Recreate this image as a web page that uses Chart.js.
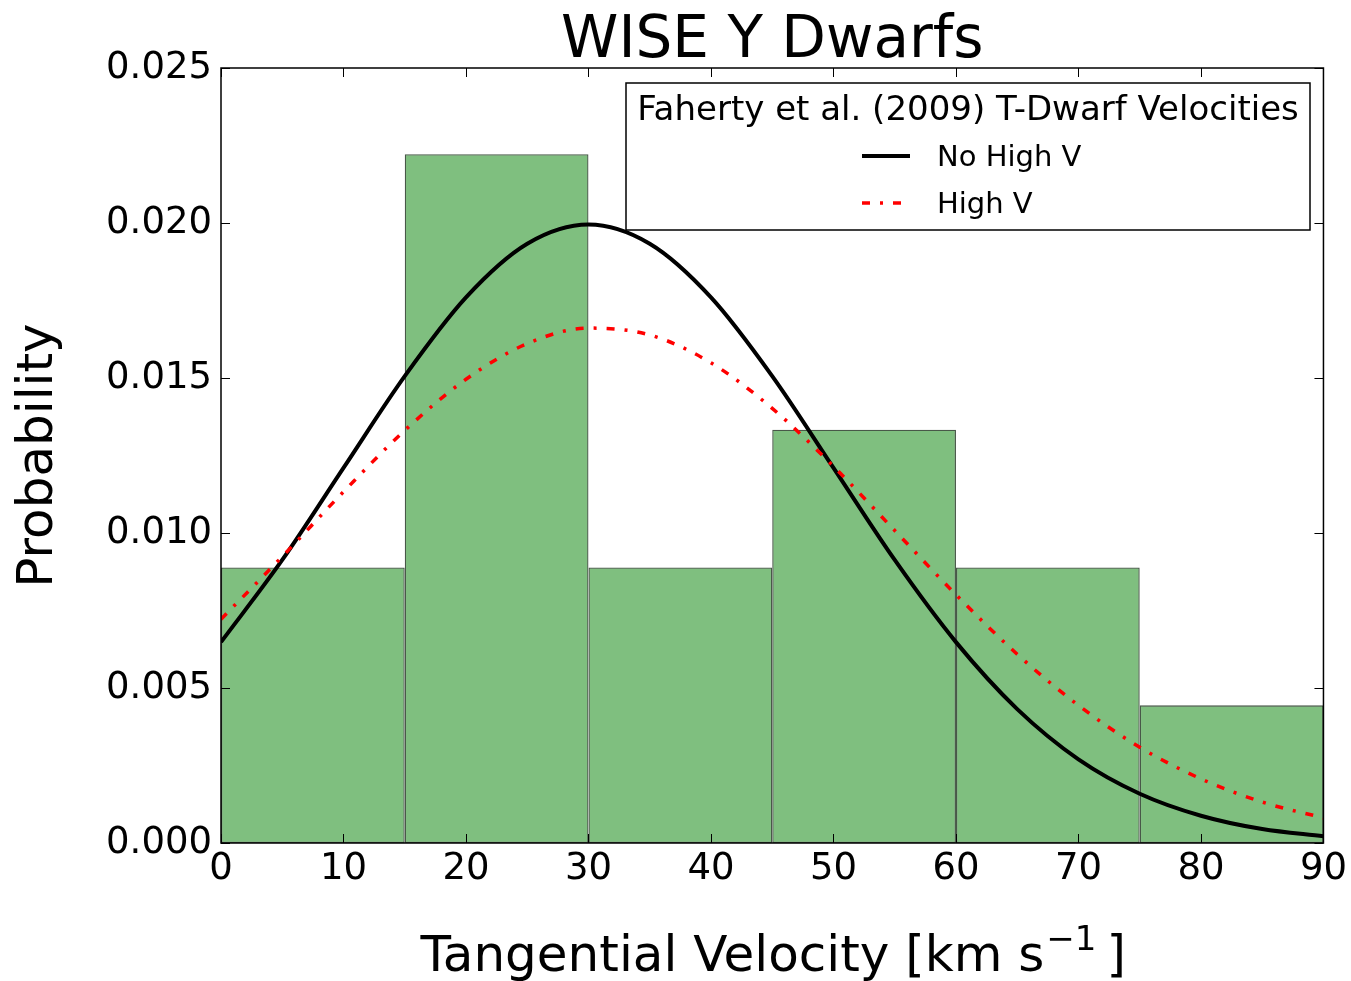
<!DOCTYPE html>
<html>
<head>
<meta charset="utf-8">
<title>WISE Y Dwarfs</title>
<script src="https://cdn.jsdelivr.net/npm/chart.js@4.4.0/dist/chart.umd.min.js"></script>
<style>
  html, body { margin: 0; padding: 0; background: #fff; }
  #wrap { width: 1351px; height: 981px; }
</style>
</head>
<body>
<div id="wrap"><canvas id="ywChart" width="1351" height="981"></canvas></div>
<script>
// histogram bins (km/s) and normalised counts
const binEdges = [0, 15, 30, 45, 60, 75, 90];
const binProb = [0.00889, 0.02222, 0.00889, 0.01333, 0.00889, 0.00444];

// Faherty et al. (2009) curves, every 5 km/s
const curveX = [0, 5, 10, 15, 20, 25, 30, 35, 40, 45, 50, 55, 60, 65, 70, 75, 80, 85, 90];
const noHighV = [0.00648, 0.00913, 0.01210, 0.01506, 0.01760, 0.01933, 0.01995, 0.01933, 0.01760,
                 0.01506, 0.01210, 0.00913, 0.00648, 0.00432, 0.00270, 0.00159, 0.00088, 0.00045, 0.00022];
const highV = [0.00722, 0.00924, 0.01133, 0.01331, 0.01496, 0.01611, 0.01661, 0.01639, 0.01549,
               0.01402, 0.01215, 0.01008, 0.00801, 0.00609, 0.00444, 0.00309, 0.00207, 0.00132, 0.00081];

const FONT = '"DejaVu Sans", sans-serif';
const redDash = [8, 10, 3, 10];

const barPoints = binProb.map((p, i) => ({ x: (binEdges[i] + binEdges[i + 1]) / 2, y: p }));
const toXY = ys => curveX.map((x, i) => ({ x: x, y: ys[i] }));

// frame, inward ticks, titles and legend (matplotlib look)
const decorations = {
    id: 'decorations',
    afterDraw(chart) {
        const ctx = chart.ctx;
        const a = chart.chartArea;
        const xs = chart.scales.x, ys = chart.scales.y;
        ctx.save();

        // inward ticks on all four sides
        ctx.strokeStyle = '#000';
        ctx.lineWidth = 1;
        const tl = 9;
        xs.ticks.forEach(t => {
            const px = Math.round(xs.getPixelForValue(t.value)) + 0.5;
            ctx.beginPath();
            ctx.moveTo(px, a.bottom); ctx.lineTo(px, a.bottom - tl);
            ctx.moveTo(px, a.top); ctx.lineTo(px, a.top + tl);
            ctx.stroke();
        });
        ys.ticks.forEach(t => {
            const py = Math.round(ys.getPixelForValue(t.value)) + 0.5;
            ctx.beginPath();
            ctx.moveTo(a.left, py); ctx.lineTo(a.left + tl, py);
            ctx.moveTo(a.right, py); ctx.lineTo(a.right - tl, py);
            ctx.stroke();
        });

        // frame
        ctx.lineWidth = 1.5;
        ctx.strokeRect(a.left, a.top, a.right - a.left, a.bottom - a.top);

        // title
        const cx = (a.left + a.right) / 2;
        ctx.fillStyle = '#000';
        ctx.textBaseline = 'alphabetic';
        ctx.textAlign = 'center';
        ctx.font = '58px ' + FONT;
        ctx.fillText('WISE Y Dwarfs', cx, 57);

        // x axis label with superscript
        ctx.textAlign = 'left';
        const main = 'Tangential Velocity [km s';
        const sup = '\u22121';
        const tail = '\u2009]';
        ctx.font = '50px ' + FONT;
        const wMain = ctx.measureText(main).width;
        const wTail = ctx.measureText(tail).width;
        ctx.font = '34px ' + FONT;
        const wSup = ctx.measureText(sup).width;
        let x0 = cx - (wMain + wSup + wTail) / 2;
        const base = 971;
        ctx.font = '50px ' + FONT;
        ctx.fillText(main, x0, base);
        ctx.font = '34px ' + FONT;
        ctx.fillText(sup, x0 + wMain + 2, base - 21);
        ctx.font = '50px ' + FONT;
        ctx.fillText(tail, x0 + wMain + wSup + 2, base);

        // y axis label
        ctx.save();
        ctx.translate(52, (a.top + a.bottom) / 2);
        ctx.rotate(-Math.PI / 2);
        ctx.textAlign = 'center';
        ctx.font = '50px ' + FONT;
        ctx.fillText('Probability', 0, 0);
        ctx.restore();

        // legend
        const lx = 626, ly = 83, lw = 684, lh = 147;
        ctx.fillStyle = '#fff';
        ctx.fillRect(lx, ly, lw, lh);
        ctx.strokeStyle = '#000';
        ctx.lineWidth = 1.5;
        ctx.strokeRect(lx, ly, lw, lh);
        ctx.fillStyle = '#000';
        ctx.textAlign = 'center';
        ctx.font = '34px ' + FONT;
        ctx.fillText('Faherty et al. (2009) T-Dwarf Velocities', lx + lw / 2, 120);

        ctx.textAlign = 'left';
        ctx.font = '29px ' + FONT;
        ctx.lineWidth = 4;
        ctx.strokeStyle = '#000';
        ctx.beginPath(); ctx.moveTo(862, 156); ctx.lineTo(910, 156); ctx.stroke();
        ctx.fillText('No High V', 937, 166);

        ctx.strokeStyle = '#ff0000';
        ctx.lineWidth = 3.5;
        ctx.setLineDash(redDash);
        ctx.beginPath(); ctx.moveTo(862, 203); ctx.lineTo(910, 203); ctx.stroke();
        ctx.setLineDash([]);
        ctx.fillText('High V', 937, 213);

        ctx.restore();
    }
};

new Chart(document.getElementById('ywChart'), {
    type: 'bar',
    data: {
        datasets: [
            {
                type: 'line',
                label: 'High V',
                data: toXY(highV),
                borderColor: '#ff0000',
                borderWidth: 3.5,
                borderDash: redDash,
                pointRadius: 0,
                cubicInterpolationMode: 'monotone',
                fill: false,
                order: 0
            },
            {
                type: 'line',
                label: 'No High V',
                data: toXY(noHighV),
                borderColor: '#000000',
                borderWidth: 4,
                pointRadius: 0,
                cubicInterpolationMode: 'monotone',
                fill: false,
                order: 1
            },
            {
                label: 'WISE Y Dwarfs',
                data: barPoints,
                backgroundColor: 'rgba(0, 128, 0, 0.5)',
                borderColor: '#485848',
                borderWidth: 1.3,
                borderSkipped: false,
                // bin width is 1.5x the 10 km/s tick spacing the library measures
                barPercentage: 1.0,
                categoryPercentage: 1.5,
                order: 2
            }
        ]
    },
    options: {
        responsive: false,
        animation: false,
        devicePixelRatio: 1,
        layout: { padding: { top: 68, right: 27, left: 0, bottom: 0 } },
        plugins: {
            legend: { display: false },
            tooltip: { enabled: false }
        },
        scales: {
            x: {
                type: 'linear',
                min: 0,
                max: 90,
                offset: false,
                ticks: { stepSize: 10, padding: 4, color: '#000', maxRotation: 0, autoSkip: false,
                         font: { family: FONT, size: 37 } },
                grid: { display: false, drawTicks: false, offset: false },
                border: { display: false },
                afterFit: s => { s.height = 138; }
            },
            y: {
                min: 0,
                max: 0.025,
                ticks: { stepSize: 0.005, padding: 9, color: '#000',
                         font: { family: FONT, size: 37 },
                         callback: v => v.toFixed(3) },
                grid: { display: false, drawTicks: false },
                border: { display: false },
                afterFit: s => { s.width = 221; }
            }
        }
    },
    plugins: [decorations]
});
</script>
</body>
</html>
